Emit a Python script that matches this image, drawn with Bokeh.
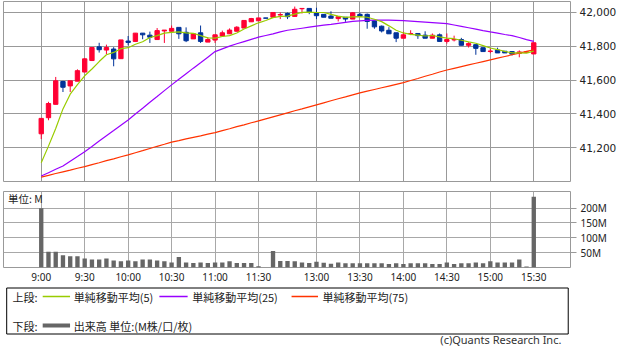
from bokeh.plotting import figure
from bokeh.layouts import column
from bokeh.models import (Range1d, FixedTicker, NumeralTickFormatter, PrintfTickFormatter,
                          ColumnDataSource, Label, Grid)
from bokeh.embed import file_html
from bokeh.resources import INLINE
from bokeh.core.properties import value

# ---------------- data (5-minute bars, slot 31 = lunch break gap) ----------------
slots = list(range(69))
opens = [41283, 41378, 41457, 41592, 41566, 41594, 41648, 41716, 41797, 41778,
         41784, 41727, 41831, 41829, 41878, 41866, 41840, 41891, 41889, 41912,
         41883, 41844, 41880, 41825, 41837, 41861, 41874, 41889, 41908, 41945,
         41951, 41968, 41972, 41985, 41994, 41977, 42022, 42024, 41998, 41989,
         41979, 41964, 41972, 41961, 41989, 41989, 41951, 41919, 41895, 41880,
         41848, 41874, 41876, 41866, 41848, 41868, 41829, 41838, 41840, 41806,
         41810, 41792, 41770, 41778, 41771, 41769, 41758, 41765, 41755]
highs = [41375, 41472, 41619, 41596, 41596, 41664, 41730, 41793, 41821, 41810,
         41795, 41838, 41861, 41878, 41878, 41887, 41908, 41896, 41923, 41912,
         41912, 41874, 41923, 41854, 41868, 41893, 41906, 41919, 41953, 41968,
         41968, 41968, 42000, 42000, 42000, 42035, 42024, 42024, 42028, 41989,
         42007, 41975, 41972, 42002, 41998, 41994, 41951, 41923, 41913, 41880,
         41887, 41895, 41876, 41889, 41876, 41876, 41876, 41863, 41850, 41825,
         41810, 41792, 41788, 41792, 41771, 41772, 41776, 41767, 41821]
lows = [41252, 41363, 41457, 41530, 41530, 41594, 41648, 41713, 41763, 41754,
        41682, 41727, 41806, 41829, 41842, 41820, 41840, 41820, 41889, 41844,
        41825, 41844, 41820, 41825, 41820, 41861, 41874, 41889, 41908, 41945,
        41951, 41966, 41972, 41961, 41961, 41977, 41994, 41990, 41961, 41972,
        41966, 41947, 41945, 41961, 41979, 41904, 41904, 41882, 41874, 41825,
        41848, 41866, 41844, 41848, 41848, 41829, 41816, 41829, 41806, 41793,
        41750, 41769, 41759, 41761, 41761, 41746, 41735, 41765, 41755]
closes = [41374, 41462, 41596, 41558, 41596, 41656, 41726, 41793, 41780, 41793,
          41726, 41838, 41823, 41878, 41868, 41854, 41893, 41896, 41906, 41874,
          41833, 41874, 41829, 41840, 41868, 41880, 41896, 41913, 41953, 41964,
          41968, 41966, 42000, 41988, 41975, 42019, 42024, 42002, 41981, 41972,
          41966, 41975, 41961, 41998, 41979, 41947, 41915, 41891, 41874, 41848,
          41868, 41876, 41863, 41848, 41866, 41829, 41840, 41840, 41806, 41816,
          41788, 41769, 41772, 41761, 41761, 41754, 41767, 41767, 41821]
ma5 = [41112, 41210, 41314, 41430, 41517, 41574, 41626, 41666, 41710, 41750,
       41764, 41786, 41792, 41812, 41827, 41852, 41863, 41878, 41883, 41885,
       41880, 41877, 41863, 41850, 41849, 41858, 41863, 41879, 41902, 41921,
       41939, 41953, 41970, 41977, 41979, 41990, 42001, 42002, 42000, 42000,
       41989, 41979, 41971, 41974, 41976, 41972, 41960, 41946, 41921, 41895,
       41879, 41871, 41866, 41861, 41864, 41856, 41849, 41845, 41836, 41826,
       41818, 41804, 41790, 41781, 41770, 41761, 41761, 41760, 41772]
ma25 = [41033, 41053, 41073, 41093, 41121, 41149, 41177, 41208, 41240, 41271,
        41302, 41334, 41365, 41400, 41434, 41469, 41503, 41538, 41572, 41605,
        41638, 41671, 41703, 41736, 41769, 41785, 41801, 41815, 41828, 41841,
        41854, 41864, 41874, 41885, 41895, 41901, 41907, 41913, 41919, 41925,
        41930, 41936, 41942, 41947, 41951, 41953, 41955, 41955, 41955, 41954,
        41952, 41949, 41946, 41943, 41940, 41937, 41934, 41926, 41918, 41910,
        41902, 41893, 41885, 41878, 41870, 41863, 41852, 41840, 41829]
ma75 = [41027, 41037, 41048, 41058, 41068, 41079, 41089, 41101, 41112, 41124,
        41135, 41147, 41158, 41171, 41183, 41196, 41209, 41221, 41234, 41243,
        41253, 41262, 41271, 41281, 41290, 41302, 41313, 41325, 41336, 41348,
        41359, 41371, 41383, 41395, 41407, 41419, 41430, 41442, 41454, 41466,
        41478, 41490, 41501, 41513, 41525, 41535, 41545, 41555, 41565, 41575,
        41585, 41598, 41610, 41623, 41635, 41648, 41660, 41670, 41680, 41690,
        41700, 41710, 41720, 41730, 41740, 41750, 41760, 41770, 41780]
volume_m = [200, 53, 53, 41, 38, 38, 30, 27, 27, 30,
            24, 21, 24, 21, 27, 27, 24, 21, 17, 35,
            17, 15, 17, 15, 17, 17, 21, 15, 15, 15,
            4, 0, 56, 22, 22, 21, 17, 15, 19, 16,
            13, 17, 14, 14, 14, 14, 14, 14, 12, 14,
            12, 14, 14, 14, 12, 12, 17, 12, 14, 14,
            17, 14, 21, 17, 17, 17, 27, 3, 238]

tick_slots = [0, 6, 12, 18, 24, 30, 38, 44, 50, 56, 62, 68]
tick_labels = ["9:00", "9:30", "10:00", "10:30", "11:00", "11:30",
               "13:00", "13:30", "14:00", "14:30", "15:00", "15:30"]
price_ticks = [41200, 41400, 41600, 41800, 42000]
volume_ticks = [50, 100, 150, 200]

section_labels = ["上段:", "下段:"]
ma_labels = ["単純移動平均(5)", "単純移動平均(25)", "単純移動平均(75)"]
volume_legend_label = "出来高 単位:(M株/口/枚)"
unit_label = "単位: M"
copyright_text = "(c)Quants Research Inc."

# ---------------- styles ----------------
UP = "#ff0033"
DOWN = "#003399"
MA_COLORS = ["#99cc00", "#9900ff", "#ff3300"]
VOL_COLOR = "#666666"
GRID = "#999999"
VGRID = "#a8a8a8"
TXT = "#222222"
W = 622

body_top = [max(o, c) for o, c in zip(opens, closes)]
body_bot = [min(o, c) for o, c in zip(opens, closes)]
colors = [UP if c >= o else DOWN for o, c in zip(opens, closes)]

x_range = Range1d(-5.21, 73.07)

# ---------------- price chart ----------------
p = figure(width=W, height=182, x_range=x_range, y_range=Range1d(40995, 42065),
           x_axis_location=None, y_axis_location="right", output_backend="svg",
           toolbar_location=None, min_border_left=3, min_border_right=52,
           min_border_top=1, min_border_bottom=0)
p.grid.visible = False
p.add_layout(Grid(dimension=0, ticker=FixedTicker(ticks=tick_slots), grid_line_color=GRID))
p.add_layout(Grid(dimension=1, ticker=FixedTicker(ticks=price_ticks), grid_line_color=GRID))
p.outline_line_color = GRID
p.background_fill_color = "white"
p.border_fill_color = "white"
ya = p.yaxis[0]
ya.ticker = FixedTicker(ticks=price_ticks)
ya.formatter = NumeralTickFormatter(format="0,0")
ya.axis_line_color = None
ya.major_tick_out = 6
ya.major_tick_in = 0
ya.major_tick_line_color = GRID
ya.minor_tick_line_color = None
ya.major_label_standoff = 3
ya.major_label_text_font = "DejaVu Sans"
ya.major_label_text_font_size = "10.5px"
ya.major_label_text_color = TXT

src = ColumnDataSource(dict(x=slots, h=highs, l=lows, t=body_top, b=body_bot, col=colors))
p.segment(x0="x", y0="h", x1="x", y1="l", line_color="col", line_width=1, source=src)
p.vbar(x="x", width=0.6, top="t", bottom="b", fill_color="col", line_color="col",
       line_width=1, source=src)
p.line(slots, ma75, line_color=MA_COLORS[2], line_width=1.2)
p.line(slots, ma25, line_color=MA_COLORS[1], line_width=1.2)
p.line(slots, ma5, line_color=MA_COLORS[0], line_width=1.2)

# ---------------- volume chart ----------------
v = figure(width=W, height=104, x_range=x_range, y_range=Range1d(0, 256),
           x_axis_location="below", y_axis_location="right", output_backend="svg",
           toolbar_location=None, min_border_left=3, min_border_right=52,
           min_border_top=9, min_border_bottom=0)
v.grid.visible = False
v.add_layout(Grid(dimension=0, ticker=FixedTicker(ticks=tick_slots), grid_line_color=VGRID))
v.add_layout(Grid(dimension=1, ticker=FixedTicker(ticks=volume_ticks), grid_line_color=VGRID))
v.outline_line_color = GRID
v.vbar(x=slots, top=volume_m, width=0.6, fill_color=VOL_COLOR, line_color=None)

xa = v.xaxis[0]
xa.ticker = FixedTicker(ticks=tick_slots)
xa.major_label_overrides = {s: l for s, l in zip(tick_slots, tick_labels)}
xa.axis_line_color = None
xa.major_tick_out = 0
xa.major_tick_in = 0
xa.minor_tick_line_color = None
xa.major_label_standoff = 2
xa.major_label_text_font = "Noto Sans"
xa.major_label_text_font_size = "10px"
xa.major_label_text_color = TXT

vy = v.yaxis[0]
vy.ticker = FixedTicker(ticks=volume_ticks)
vy.formatter = PrintfTickFormatter(format="%dM")
vy.axis_line_color = None
vy.major_tick_out = 6
vy.major_tick_in = 0
vy.major_tick_line_color = GRID
vy.minor_tick_line_color = None
vy.major_label_standoff = 4
vy.major_label_text_font = "Noto Sans"
vy.major_label_text_font_size = "10px"
vy.major_label_text_color = TXT

v.add_layout(Label(x=-4.6, y=233, text=unit_label, text_font="Noto Sans CJK JP",
                   text_font_size="10.5px", text_baseline="middle", text_color=TXT))

# ---------------- legend panel ----------------
LH = 60
g = figure(width=W, height=LH, x_range=Range1d(0, W), y_range=Range1d(LH, 0),
           x_axis_location=None, y_axis_location=None, output_backend="svg",
           toolbar_location=None, min_border=0, outline_line_color=None)
g.grid.visible = False
g.quad(left=[3.5], right=[619.5], top=[1.5], bottom=[47.5], fill_color=None,
       line_color="black", line_width=1)
row1, row2 = 10, 39
g.segment(x0=[43, 171, 316], y0=[row1] * 3, x1=[73, 202, 345], y1=[row1] * 3,
          line_color=MA_COLORS, line_width=1.3)
g.segment(x0=[43], y0=[row2], x1=[73], y1=[row2], line_color=VOL_COLOR, line_width=4)
g.text(x=[10, 77, 207, 350, 10, 77], y=[row1, row1, row1, row1, row2, row2],
       text=[section_labels[0]] + ma_labels + [section_labels[1], volume_legend_label],
       text_font=value("Noto Sans CJK JP"), text_font_size="11px",
       text_baseline="middle", text_align="left", text_color=TXT)
g.text(x=[612], y=[53], text=[copyright_text], text_font=value("Noto Sans"),
       text_font_size="11px", text_baseline="middle", text_align="right",
       text_color="#333333")

layout = column(p, v, g, spacing=0)
open("out.html", "w").write(file_html(layout, INLINE))
